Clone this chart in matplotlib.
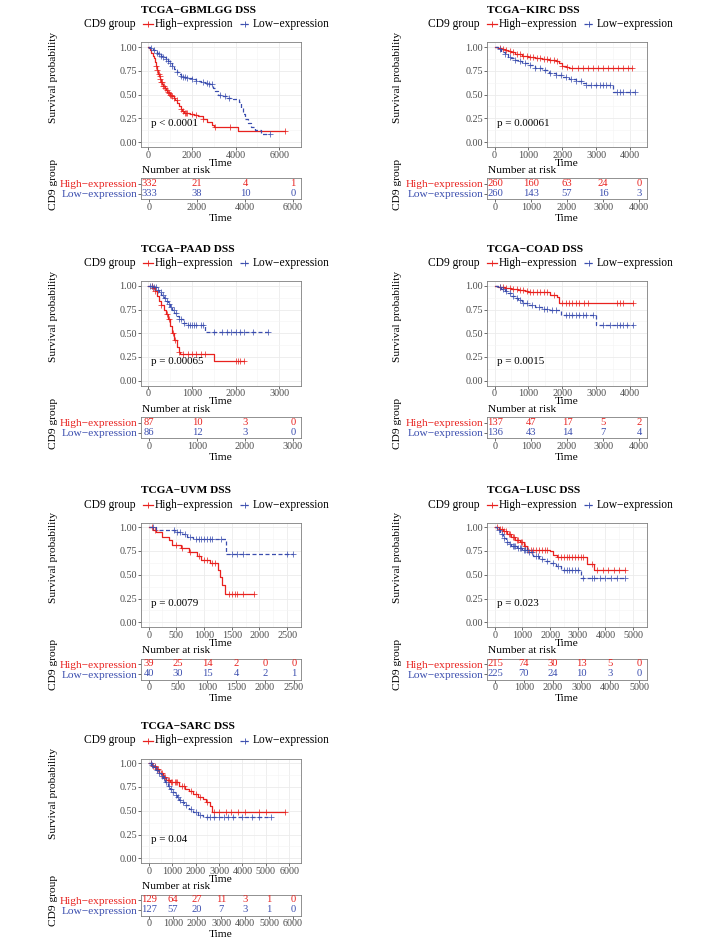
import numpy as np
import matplotlib
matplotlib.use("Agg")
import matplotlib.pyplot as plt
from matplotlib.lines import Line2D
from matplotlib.transforms import blended_transform_factory

plt.rcParams.update({
    "font.family": ["Liberation Serif", "DejaVu Serif"],
    "axes.edgecolor": "#7f7f7f",
    "axes.linewidth": 0.6,
    "xtick.color": "#333333",
    "ytick.color": "#333333",
    "xtick.labelcolor": "#4d4d4d",
    "ytick.labelcolor": "#4d4d4d",
    "xtick.major.size": 2.0,
    "ytick.major.size": 2.0,
    "xtick.major.width": 0.5,
    "ytick.major.width": 0.5,
    "xtick.major.pad": 0.8,
    "ytick.major.pad": 0.8,
    "xtick.labelsize": 7.3,
    "ytick.labelsize": 7.3,
})

RED = "#e8211e"
BLUE = "#3a4dae"
W, H = 712, 944

# ---- TCGA-GBMLGG ----
GBMLGG_BREAKS = [0, 2000, 4000, 6000]
GBMLGG_RISK_HIGH = [332, 21, 4, 1]
GBMLGG_RISK_LOW = [333, 38, 10, 0]
GBMLGG_HIGH_T = [0, 50, 100, 150, 200, 250, 300, 350, 400, 450, 500, 550, 600, 650, 700, 760, 820,
                 880, 940, 1000, 1080, 1160, 1240, 1320, 1400, 1480, 1560, 1640, 1900, 2100, 2300,
                 2500, 2700, 2900, 3000, 4100]
GBMLGG_HIGH_S = [1, .985, .965, .94, .91, .88, .84, .80, .76, .72, .69, .66, .63, .61, .59, .57, .55,
                 .53, .515, .50, .48, .46, .44, .41, .38, .35, .33, .31, .30, .28, .27, .24, .21, .18,
                 .16, .12]
GBMLGG_HIGH_CENS = [350, 420, 480, 520, 560, 600, 640, 700, 740, 780, 850, 900, 950, 1000, 1050, 1100,
                    1200, 1300, 1500, 1600, 1700, 1750, 1800, 2000, 2200, 2500, 3050, 3750, 6250]
GBMLGG_LOW_T = [0, 100, 200, 300, 400, 500, 600, 700, 800, 900, 1000, 1100, 1200, 1300, 1400, 1500,
                1600, 1800, 2000, 2200, 2400, 2600, 2800, 2950, 3050, 3200, 3400, 3600, 3900, 4150,
                4250, 4350, 4450, 4550, 4700, 4900, 5150]
GBMLGG_LOW_S = [1, .985, .97, .955, .94, .925, .905, .89, .87, .85, .83, .80, .77, .74, .72, .70, .68,
                .67, .66, .645, .635, .625, .615, .57, .54, .50, .48, .46, .45, .42, .36, .30, .24,
                .20, .16, .13, .08]
GBMLGG_LOW_CENS = [150, 250, 400, 500, 600, 700, 800, 900, 1000, 1100, 1300, 1500, 1600, 1700, 1800,
                   2000, 2200, 2500, 2700, 2800, 2900, 3300, 3500, 3700, 5600]

# ---- TCGA-KIRC ----
KIRC_BREAKS = [0, 1000, 2000, 3000, 4000]
KIRC_RISK_HIGH = [260, 160, 63, 24, 0]
KIRC_RISK_LOW = [260, 143, 57, 16, 3]
KIRC_HIGH_T = [0, 100, 200, 300, 400, 500, 600, 800, 1000, 1200, 1400, 1600, 1800, 1900, 2000, 2100, 2200]
KIRC_HIGH_S = [1, .99, .98, .97, .955, .945, .93, .91, .895, .885, .875, .865, .85, .83, .80, .785, .78]
KIRC_HIGH_CENS = [150, 250, 350, 450, 550, 650, 750, 850, 950, 1050, 1150, 1250, 1350, 1450, 1550,
                  1650, 1750, 1850, 2000, 2150, 2300, 2450, 2600, 2750, 2900, 3050, 3200, 3350, 3500,
                  3650, 3800, 3950, 4050]
KIRC_LOW_T = [0, 100, 200, 300, 400, 500, 600, 700, 800, 1000, 1200, 1400, 1600, 1800, 2000, 2200,
              2400, 2600, 2700, 3500]
KIRC_LOW_S = [1, .98, .95, .93, .90, .88, .865, .85, .835, .81, .78, .755, .73, .705, .68, .665, .645,
              .625, .60, .53]
KIRC_LOW_CENS = [150, 300, 450, 600, 750, 900, 1050, 1200, 1350, 1500, 1650, 1800, 1950, 2100, 2250,
                 2400, 2550, 2700, 2850, 3000, 3100, 3200, 3300, 3400, 3600, 3700, 3800, 4000, 4150]

# ---- TCGA-PAAD ----
PAAD_BREAKS = [0, 1000, 2000, 3000]
PAAD_RISK_HIGH = [87, 10, 3, 0]
PAAD_RISK_LOW = [86, 12, 3, 0]
PAAD_HIGH_T = [0, 100, 150, 200, 250, 300, 350, 400, 450, 500, 550, 600, 650, 700, 730, 1500]
PAAD_HIGH_S = [1, .98, .94, .89, .84, .80, .75, .70, .65, .58, .50, .43, .36, .30, .28, .21]
PAAD_HIGH_CENS = [80, 110, 150, 300, 420, 480, 560, 620, 700, 800, 900, 1000, 1100, 1200, 1300, 2000,
                  2050, 2100, 2200]
PAAD_LOW_T = [0, 100, 200, 250, 300, 350, 400, 450, 500, 550, 600, 650, 700, 800, 900, 1300]
PAAD_LOW_S = [1, .99, .96, .93, .90, .87, .84, .81, .78, .74, .71, .68, .65, .61, .59, .51]
PAAD_LOW_CENS = [50, 90, 120, 180, 220, 280, 330, 380, 430, 480, 530, 580, 640, 700, 760, 820, 900,
                 950, 1000, 1050, 1100, 1200, 1250, 1500, 1700, 1800, 1900, 2000, 2100, 2200, 2400, 2750]

# ---- TCGA-COAD ----
COAD_BREAKS = [0, 1000, 2000, 3000, 4000]
COAD_RISK_HIGH = [137, 47, 17, 5, 2]
COAD_RISK_LOW = [136, 43, 14, 7, 4]
COAD_HIGH_T = [0, 100, 300, 500, 700, 900, 1000, 1650, 1850, 1900]
COAD_HIGH_S = [1, .99, .98, .965, .955, .945, .93, .90, .88, .82]
COAD_HIGH_CENS = [150, 250, 350, 450, 550, 650, 750, 850, 950, 1050, 1150, 1250, 1350, 1450, 1550,
                  1750, 2000, 2100, 2200, 2300, 2400, 2500, 2650, 2750, 3600, 3700, 3800, 4100]
COAD_LOW_T = [0, 100, 200, 300, 400, 500, 600, 700, 800, 1000, 1200, 1400, 1600, 1950, 3000]
COAD_LOW_S = [1, .99, .97, .95, .92, .89, .87, .85, .82, .80, .78, .76, .74, .69, .59]
COAD_LOW_CENS = [150, 250, 350, 450, 550, 650, 750, 850, 950, 1100, 1300, 1450, 1550, 1700, 1800,
                 2100, 2200, 2300, 2400, 2500, 2600, 2700, 2900, 3200, 3400, 3600, 3700, 3800, 3900, 4100]

# ---- TCGA-UVM ----
UVM_BREAKS = [0, 500, 1000, 1500, 2000, 2500]
UVM_RISK_HIGH = [39, 25, 14, 2, 0, 0]
UVM_RISK_LOW = [40, 30, 15, 4, 2, 1]
UVM_HIGH_T = [0, 75, 130, 250, 360, 420, 590, 730, 880, 940, 1100, 1250, 1280, 1330, 1370]
UVM_HIGH_S = [1, .975, .95, .90, .87, .81, .78, .74, .70, .66, .62, .55, .48, .39, .30]
UVM_HIGH_CENS = [60, 120, 500, 600, 750, 900, 1000, 1050, 1150, 1200, 1450, 1500, 1550, 1600, 1700, 1900]
UVM_LOW_T = [0, 130, 480, 600, 700, 800, 1390]
UVM_LOW_S = [1, .975, .95, .93, .90, .875, .72]
UVM_LOW_CENS = [80, 450, 520, 560, 650, 750, 850, 900, 950, 1000, 1050, 1100, 1150, 1300, 1500, 1600,
                1700, 2500, 2600]

# ---- TCGA-LUSC ----
LUSC_BREAKS = [0, 1000, 2000, 3000, 4000, 5000]
LUSC_RISK_HIGH = [215, 74, 30, 13, 5, 0]
LUSC_RISK_LOW = [225, 70, 24, 10, 3, 0]
LUSC_HIGH_T = [0, 150, 300, 450, 600, 750, 900, 1050, 1150, 2000, 2100, 2250, 3350, 3600]
LUSC_HIGH_S = [1, .98, .96, .93, .90, .87, .84, .80, .76, .745, .71, .685, .615, .545]
LUSC_HIGH_CENS = [100, 200, 250, 350, 400, 500, 550, 650, 700, 800, 850, 950, 1000, 1100, 1200, 1300,
                  1400, 1500, 1600, 1700, 1800, 1900, 2300, 2400, 2500, 2600, 2700, 2800, 2900, 3000,
                  3100, 3200, 3500, 3700, 3900, 4100, 4300, 4500, 4700]
LUSC_LOW_T = [0, 100, 200, 300, 400, 500, 600, 800, 1000, 1200, 1400, 1600, 1800, 2000, 2200, 2400, 3100]
LUSC_LOW_S = [1, .97, .93, .89, .85, .82, .80, .78, .76, .74, .70, .67, .65, .62, .59, .55, .47]
LUSC_LOW_CENS = [150, 250, 350, 450, 550, 650, 700, 750, 850, 900, 950, 1050, 1100, 1150, 1250, 1350,
                 1500, 1550, 1700, 1900, 2100, 2300, 2500, 2600, 2700, 2800, 2900, 3000, 3200, 3500,
                 3600, 3800, 4000, 4200, 4400, 4700]

# ---- TCGA-SARC ----
SARC_BREAKS = [0, 1000, 2000, 3000, 4000, 5000, 6000]
SARC_RISK_HIGH = [129, 64, 27, 11, 3, 1, 0]
SARC_RISK_LOW = [127, 57, 20, 7, 3, 1, 0]
SARC_HIGH_T = [0, 150, 300, 450, 600, 750, 900, 1300, 1550, 1700, 1900, 2100, 2300, 2450, 2600, 2700]
SARC_HIGH_S = [1, .97, .94, .90, .86, .82, .80, .76, .73, .71, .68, .65, .62, .59, .55, .49]
SARC_HIGH_CENS = [100, 200, 250, 350, 400, 500, 550, 650, 700, 800, 850, 950, 1000, 1100, 1150, 1200,
                  1400, 1500, 1800, 2000, 2200, 2500, 2800, 3000, 3300, 3500, 3800, 4100, 4700, 5000, 5800]
SARC_LOW_T = [0, 100, 200, 300, 400, 500, 600, 700, 800, 900, 1000, 1100, 1200, 1300, 1400, 1500,
              1700, 1900, 2100, 2300]
SARC_LOW_S = [1, .98, .96, .93, .90, .87, .84, .80, .76, .73, .70, .67, .64, .61, .59, .56, .52, .49,
              .46, .43]
SARC_LOW_CENS = [80, 150, 250, 350, 450, 550, 650, 750, 850, 950, 1050, 1150, 1250, 1350, 1450, 1600,
                 1800, 2000, 2200, 2500, 2600, 2800, 3000, 3200, 3400, 3600, 4000, 4400, 4700, 5200]

PANELS = [
    ("TCGA−GBMLGG DSS", 0, 42.3, "p < 0.0001", (-330, 6330), GBMLGG_BREAKS,
     (GBMLGG_HIGH_T, GBMLGG_HIGH_S, GBMLGG_HIGH_CENS), (GBMLGG_LOW_T, GBMLGG_LOW_S, GBMLGG_LOW_CENS),
     GBMLGG_RISK_HIGH, GBMLGG_RISK_LOW),
    ("TCGA−KIRC DSS", 1, 42.3, "p = 0.00061", (-222, 4222), KIRC_BREAKS,
     (KIRC_HIGH_T, KIRC_HIGH_S, KIRC_HIGH_CENS), (KIRC_LOW_T, KIRC_LOW_S, KIRC_LOW_CENS),
     KIRC_RISK_HIGH, KIRC_RISK_LOW),
    ("TCGA−PAAD DSS", 0, 281.0, "p = 0.00065", (-167, 3167), PAAD_BREAKS,
     (PAAD_HIGH_T, PAAD_HIGH_S, PAAD_HIGH_CENS), (PAAD_LOW_T, PAAD_LOW_S, PAAD_LOW_CENS),
     PAAD_RISK_HIGH, PAAD_RISK_LOW),
    ("TCGA−COAD DSS", 1, 281.0, "p = 0.0015", (-222, 4222), COAD_BREAKS,
     (COAD_HIGH_T, COAD_HIGH_S, COAD_HIGH_CENS), (COAD_LOW_T, COAD_LOW_S, COAD_LOW_CENS),
     COAD_RISK_HIGH, COAD_RISK_LOW),
    ("TCGA−UVM DSS", 0, 522.5, "p = 0.0079", (-138, 2621), UVM_BREAKS,
     (UVM_HIGH_T, UVM_HIGH_S, UVM_HIGH_CENS), (UVM_LOW_T, UVM_LOW_S, UVM_LOW_CENS),
     UVM_RISK_HIGH, UVM_RISK_LOW),
    ("TCGA−LUSC DSS", 1, 522.5, "p = 0.023", (-278, 5278), LUSC_BREAKS,
     (LUSC_HIGH_T, LUSC_HIGH_S, LUSC_HIGH_CENS), (LUSC_LOW_T, LUSC_LOW_S, LUSC_LOW_CENS),
     LUSC_RISK_HIGH, LUSC_RISK_LOW),
    ("TCGA−SARC DSS", 0, 758.5, "p = 0.04", (-333, 6333), SARC_BREAKS,
     (SARC_HIGH_T, SARC_HIGH_S, SARC_HIGH_CENS), (SARC_LOW_T, SARC_LOW_S, SARC_LOW_CENS),
     SARC_RISK_HIGH, SARC_RISK_LOW),
]

PLOT_LEFT = [141, 487]
PLOT_W = 160
YLAB_X = [53, 398]
LEG_X = [84, 428]

fig = plt.figure(figsize=(W / 100, H / 100), dpi=100)


def px_axes(x0, y0, w, h):
    return fig.add_axes([x0 / W, 1 - (y0 + h) / H, w / W, h / H])


def ftext(x, y, s, **kw):
    fig.text(x / W, 1 - y / H, s, **kw)


def km_line(ax, t, s, cens, color, dashed):
    t = np.asarray(t, float)
    s = np.asarray(s, float)
    c = np.asarray(cens, float)
    end = max(t[-1], c.max())
    line, = ax.plot(np.append(t, end), np.append(s, s[-1]), drawstyle="steps-post",
                    color=color, lw=0.9)
    if dashed:
        line.set_dashes([3.2, 2.0])
    idx = np.searchsorted(t, c, side="right") - 1
    ax.plot(c, s[idx], ls="none", marker="+", ms=4, mew=0.6, color=color, alpha=0.85)


def legend(col, y):
    x0 = LEG_X[col]
    ftext(x0, y, "CD9 group", fontsize=8.3, va="center", ha="left")
    for k0, tx, color, label, dashed in [(59, 71, RED, "High−expression", False),
                                         (156, 169, BLUE, "Low−expression", True)]:
        ln = Line2D([(x0 + k0) / W, (x0 + k0 + 10) / W], [1 - y / H, 1 - y / H],
                    color=color, lw=0.9, transform=fig.transFigure)
        if dashed:
            ln.set_dashes([2.5, 1.5])
        fig.add_artist(ln)
        fig.add_artist(Line2D([(x0 + k0 + 5) / W], [1 - y / H], marker="+", ms=4, mew=0.6,
                              color=color, transform=fig.transFigure))
        ftext(x0 + tx, y, label, fontsize=8.3, va="center", ha="left")


for (title, col, top, pval, xlim, breaks, high, low, risk_high, risk_low) in PANELS:
    x0 = PLOT_LEFT[col]
    xc = x0 + PLOT_W / 2
    step = breaks[1] - breaks[0]
    minor = [b + step / 2 for b in breaks]

    ax = px_axes(x0, top, PLOT_W, 104.5)
    ax.set_xlim(xlim)
    ax.set_ylim(-0.05, 1.05)
    ax.set_xticks(breaks)
    ax.set_xticks(minor, minor=True)
    ax.set_yticks([0, 0.25, 0.5, 0.75, 1.0])
    ax.set_yticks([0.125, 0.375, 0.625, 0.875], minor=True)
    ax.set_yticklabels(["0.00", "0.25", "0.50", "0.75", "1.00"])
    ax.tick_params(which="minor", length=0)
    ax.grid(True, which="major", color="#ebebeb", lw=0.6)
    ax.grid(True, which="minor", color="#f4f4f4", lw=0.4)
    ax.set_axisbelow(True)
    km_line(ax, *high, RED, False)
    km_line(ax, *low, BLUE, True)
    ax.text(0.065, 0.2, pval, transform=blended_transform_factory(ax.transAxes, ax.transData),
            fontsize=7.9, ha="left", va="center")

    ftext(x0, top - 32, title, fontsize=8.2, fontweight="bold", ha="left", va="center")
    legend(col, top - 18)
    ftext(YLAB_X[col], top + 35, "Survival probability", fontsize=8.2, rotation=90,
          ha="center", va="center")
    ftext(xc, top + 121, "Time", fontsize=8.2, ha="center", va="center")
    ftext(x0 + 1, top + 128, "Number at risk", fontsize=8.2, ha="left", va="center")

    tab = px_axes(x0, top + 136, PLOT_W, 21)
    tab.set_xlim(xlim)
    tab.set_ylim(0.45, 2.55)
    tab.set_xticks(breaks)
    tab.set_yticks([2, 1])
    tab.set_yticklabels(["High−expression", "Low−expression"], fontsize=8.2)
    for lab, c in zip(tab.get_yticklabels(), [RED, BLUE]):
        lab.set_color(c)
    for b, n in zip(breaks, risk_high):
        tab.text(b, 2, str(n), color=RED, ha="center", va="center", fontsize=7.6)
    for b, n in zip(breaks, risk_low):
        tab.text(b, 1, str(n), color=BLUE, ha="center", va="center", fontsize=7.6)
    ftext(YLAB_X[col], top + 142, "CD9 group", fontsize=8.2, rotation=90, ha="center", va="center")
    ftext(xc, top + 176, "Time", fontsize=8.2, ha="center", va="center")

fig.savefig("out.png", dpi=100, facecolor="white")
